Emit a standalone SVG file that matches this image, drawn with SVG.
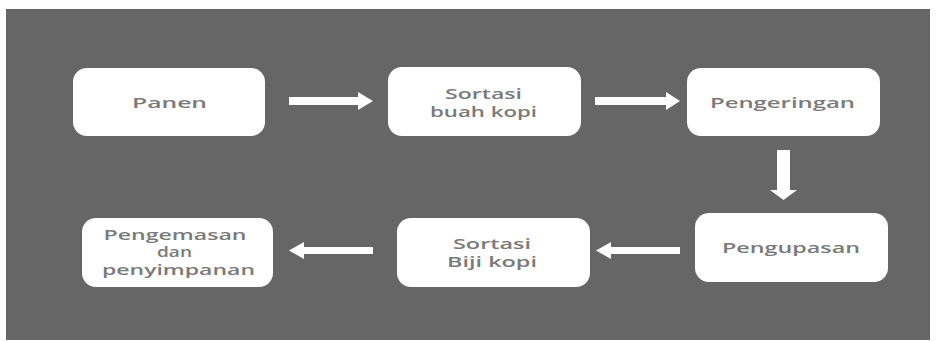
<svg xmlns="http://www.w3.org/2000/svg" width="938" height="341" viewBox="0 0 938 341">
<style>
.node rect{fill:#ffffff;}
.node text{font-family:"Open Sans","DejaVu Sans",sans-serif;font-weight:600;font-size:15px;fill:#7a7a7a;text-anchor:middle;}
.arrow{fill:#ffffff;}
</style>
<rect x="0" y="0" width="938" height="341" fill="#ffffff"/>
<rect x="6" y="9" width="924" height="331" fill="#666666"/>
<g id="panen" class="node">
<rect x="73" y="68" width="192" height="68" rx="14"/>
<text x="169.5" y="108" textLength="75" lengthAdjust="spacingAndGlyphs">Panen</text>
</g>
<g id="sortasi-buah" class="node">
<rect x="388" y="67" width="193" height="69" rx="14"/>
<text x="483.5" y="99" textLength="77" lengthAdjust="spacingAndGlyphs">Sortasi</text>
<text x="483.5" y="117" textLength="107" lengthAdjust="spacingAndGlyphs">buah kopi</text>
</g>
<g id="pengeringan" class="node">
<rect x="687" y="68" width="193" height="68" rx="14"/>
<text x="782.5" y="108" textLength="145" lengthAdjust="spacingAndGlyphs">Pengeringan</text>
</g>
<g id="pengupasan" class="node">
<rect x="695" y="213" width="193" height="69" rx="14"/>
<text x="791" y="253" textLength="138" lengthAdjust="spacingAndGlyphs">Pengupasan</text>
</g>
<g id="sortasi-biji" class="node">
<rect x="397" y="218" width="193" height="69" rx="14"/>
<text x="492" y="249" textLength="78" lengthAdjust="spacingAndGlyphs">Sortasi</text>
<text x="492" y="267" textLength="90" lengthAdjust="spacingAndGlyphs">Biji kopi</text>
</g>
<g id="pengemasan" class="node">
<rect x="82" y="218" width="191" height="69" rx="14"/>
<text x="175" y="240" textLength="143" lengthAdjust="spacingAndGlyphs">Pengemasan</text>
<text x="174.5" y="257" textLength="35" lengthAdjust="spacingAndGlyphs">dan</text>
<text x="178.5" y="275" textLength="153" lengthAdjust="spacingAndGlyphs">penyimpanan</text>
</g>
<g id="connectors">
<polygon class="arrow" points="289,97 358,97 358,92 373,101 358,110 358,105 289,105"/>
<polygon class="arrow" points="595,97 666,97 666,92 680,101 666,110 666,105 595,105"/>
<polygon class="arrow" points="777,150 790,150 790,190 797,190 783.5,200 770,190 777,190"/>
<polygon class="arrow" points="680,247 611,247 611,242 596,250.5 611,259 611,254 680,254"/>
<polygon class="arrow" points="373,247 304,247 304,242 289,250.5 304,259 304,254 373,254"/>
</g>
</svg>
